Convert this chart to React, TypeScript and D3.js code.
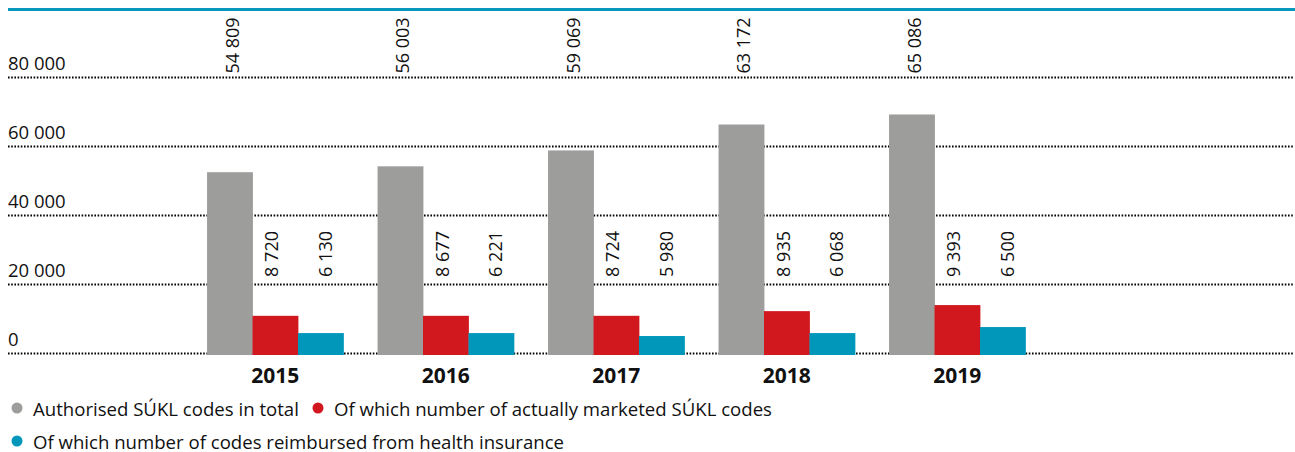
import React, { useEffect, useRef } from "react";
import * as d3 from "d3";

const years = ["2015", "2016", "2017", "2018", "2019"];

// bar heights as they are drawn in the figure
const authorisedBars = [52600, 54300, 58900, 66400, 69300];
const marketedBars = [11050, 11050, 11050, 12400, 14150];
const reimbursedBars = [6050, 6050, 5200, 6050, 7800];

// numbers printed above the bars
const authorisedLabels = [54809, 56003, 59069, 63172, 65086];
const marketedLabels = [8720, 8677, 8724, 8935, 9393];
const reimbursedLabels = [6130, 6221, 5980, 6068, 6500];

const yTicks = [0, 20000, 40000, 60000, 80000];

const seriesNames = [
  "Authorised SÚKL codes in total",
  "Of which number of actually marketed SÚKL codes",
  "Of which number of codes reimbursed from health insurance",
];
const seriesColors = ["#9d9d9c", "#d0181e", "#0097bb"];

const SUKLCodesChart = () => {
  const svgRef = useRef<SVGSVGElement>(null);

  useEffect(() => {
    const svg = d3.select(svgRef.current);
    svg.selectAll("*").remove();

    const width = 1295;
    const height = 452;
    const font = "'Open Sans', sans-serif";
    const ink = "#111";

    const fmt = d3.formatLocale({ decimal: ",", thousands: " ", grouping: [3], currency: ["", ""] }).format(",d");

    const x = d3.scaleBand<string>()
      .domain(years)
      .range([190, 1042.5])
      .paddingInner(0.2)
      .paddingOuter(0.1);

    const xs = d3.scaleBand<number>()
      .domain([0, 1, 2])
      .range([0, x.bandwidth()]);

    const y = d3.scaleLinear()
      .domain([0, 80000])
      .range([354, 77.5]);

    svg.attr("width", width).attr("height", height);

    // header rule
    svg.append("rect")
      .attr("x", 8)
      .attr("y", 8)
      .attr("width", width - 8)
      .attr("height", 3)
      .attr("fill", "#0a97be");

    // dotted grid lines
    svg.selectAll("line.grid")
      .data(yTicks)
      .enter()
      .append("line")
      .attr("x1", 8)
      .attr("x2", 1294)
      .attr("y1", d => Math.round(y(d)) - 0.5)
      .attr("y2", d => Math.round(y(d)) - 0.5)
      .attr("stroke", "#000")
      .attr("stroke-width", 2)
      .attr("stroke-dasharray", "1.6 1.6");

    // tick labels
    svg.selectAll("text.tick")
      .data(yTicks)
      .enter()
      .append("text")
      .attr("x", 8)
      .attr("y", d => y(d) - 8)
      .style("font-family", font)
      .style("font-size", "18.5px")
      .attr("fill", ink)
      .text(d => fmt(d));

    const series = [
      { bars: authorisedBars, labels: authorisedLabels, labelY: y(80000) - 4, dx: 2 },
      { bars: marketedBars, labels: marketedLabels, labelY: y(20000) - 8, dx: -4 },
      { bars: reimbursedBars, labels: reimbursedLabels, labelY: y(20000) - 8, dx: 4 },
    ];

    series.forEach((s, i) => {
      const g = svg.append("g");
      g.selectAll("rect")
        .data(years)
        .enter()
        .append("rect")
        .attr("x", d => (x(d) as number) + (xs(i) as number))
        .attr("y", (d, j) => y(s.bars[j]))
        .attr("width", xs.bandwidth() + 0.4)
        .attr("height", (d, j) => y(0) - y(s.bars[j]) + 1)
        .attr("fill", seriesColors[i]);

      g.selectAll("text")
        .data(years)
        .enter()
        .append("text")
        .attr("transform", d => {
          const cx = (x(d) as number) + (xs(i) as number) + xs.bandwidth() / 2 + s.dx;
          return `translate(${cx},${s.labelY}) rotate(-90)`;
        })
        .attr("dominant-baseline", "central")
        .style("font-family", font)
        .style("font-size", "18px")
        .attr("fill", ink)
        .text((d, j) => fmt(s.labels[j]));
    });

    // year labels
    svg.selectAll("text.year")
      .data(years)
      .enter()
      .append("text")
      .attr("x", d => (x(d) as number) + x.bandwidth() / 2)
      .attr("y", 383)
      .attr("text-anchor", "middle")
      .style("font-family", font)
      .style("font-size", "21px")
      .style("font-weight", "bold")
      .attr("fill", ink)
      .text(d => d);

    // legend
    const legend = [
      { x: 17, y: 408 },
      { x: 318, y: 408 },
      { x: 17, y: 441 },
    ];
    legend.forEach((p, i) => {
      svg.append("circle")
        .attr("cx", p.x)
        .attr("cy", p.y)
        .attr("r", 5.5)
        .attr("fill", seriesColors[i]);
      svg.append("text")
        .attr("x", p.x + 16)
        .attr("y", p.y)
        .attr("dominant-baseline", "central")
        .style("font-family", font)
        .style("font-size", "18.6px")
        .attr("fill", ink)
        .text(seriesNames[i]);
    });
  }, []);

  return <svg ref={svgRef} style={{ position: "absolute", left: 0, top: 0 }} />;
};

export default function App() {
  return <SUKLCodesChart />;
}
